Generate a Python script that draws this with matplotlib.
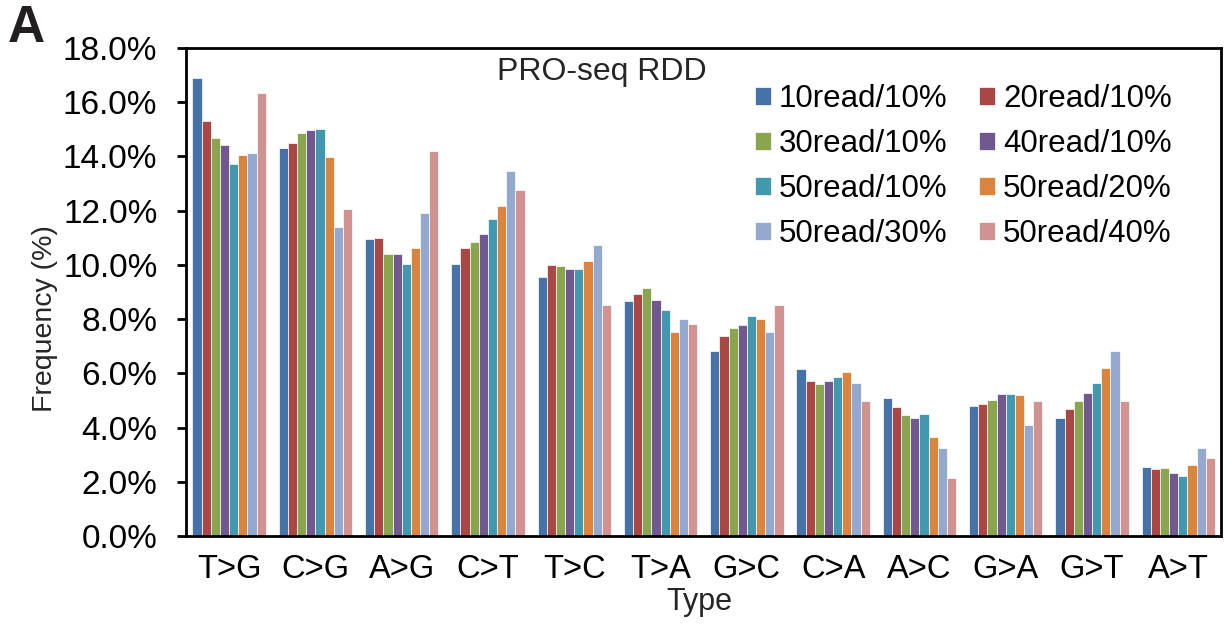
import numpy as np
import matplotlib
matplotlib.use("Agg")
import matplotlib.pyplot as plt

plt.rcParams['font.family'] = ['Liberation Sans', 'DejaVu Sans']

types = ["T>G", "C>G", "A>G", "C>T", "T>C", "T>A", "G>C", "C>A", "A>C", "G>A", "G>T", "A>T"]
series_names = ["10read/10%", "20read/10%", "30read/10%", "40read/10%",
                "50read/10%", "50read/20%", "50read/30%", "50read/40%"]

# frequency (%) per mutation type
r10_10 = [16.88, 14.32, 10.97, 10.05, 9.56, 8.66, 6.82, 6.15, 5.08, 4.81, 4.34, 2.56]
r20_10 = [15.32, 14.51, 10.99, 10.64, 10.00, 8.94, 7.39, 5.70, 4.74, 4.86, 4.67, 2.47]
r30_10 = [14.69, 14.86, 10.40, 10.86, 9.97, 9.15, 7.69, 5.62, 4.45, 5.02, 4.97, 2.50]
r40_10 = [14.42, 14.97, 10.40, 11.15, 9.85, 8.69, 7.79, 5.72, 4.36, 5.25, 5.26, 2.34]
r50_10 = [13.72, 15.01, 10.02, 11.70, 9.86, 8.33, 8.10, 5.85, 4.50, 5.24, 5.66, 2.20]
r50_20 = [14.07, 13.97, 10.63, 12.16, 10.16, 7.51, 8.01, 6.04, 3.66, 5.19, 6.19, 2.62]
r50_30 = [14.13, 11.41, 11.91, 13.45, 10.72, 8.01, 7.51, 5.63, 3.26, 4.10, 6.82, 3.26]
r50_40 = [16.33, 12.07, 14.20, 12.77, 8.51, 7.83, 8.53, 4.99, 2.15, 4.99, 4.99, 2.86]

all_series = [r10_10, r20_10, r30_10, r40_10, r50_10, r50_20, r50_30, r50_40]
colors = ["#4572A7", "#AA4643", "#89A54E", "#71588F",
          "#4198AF", "#DB843D", "#93A9CF", "#D19392"]

fig = plt.figure(figsize=(12.25, 6.3), dpi=100)
ax = fig.add_axes([0.1518, 0.1492, 0.8453, 0.7746])

x = np.arange(len(types))
group_w = 0.85
bar_w = group_w / len(all_series)
bars = []
for i, (vals, name, c) in enumerate(zip(all_series, series_names, colors)):
    offs = -group_w / 2 + bar_w * (i + 0.5)
    b = ax.bar(x + offs, vals, width=bar_w, color=c, edgecolor="white",
               linewidth=0.5, label=name)
    bars.append(b)

ax.set_xlim(-0.5, len(types) - 0.5)
ax.set_ylim(0, 18)
yt = np.arange(0, 18.1, 2)
ax.set_yticks(yt)
ax.set_yticklabels([f"{v:.1f}%" for v in yt])
ax.set_xticks(x)
ax.set_xticklabels(types)

ax.tick_params(axis="y", direction="out", length=6.5, width=2, labelsize=24, pad=14)
ax.tick_params(axis="x", length=0, labelsize=23.5, pad=13)
for sp in ax.spines.values():
    sp.set_linewidth(2)
    sp.set_color("black")

ax.set_xlabel("Type", fontsize=22, color="#262626")
ax.xaxis.set_label_coords(0.496, -0.105)
ax.set_ylabel("Frequency (%)", fontsize=20.5, color="#262626")
ax.yaxis.set_label_coords(-0.124, 0.445)

ax.text(0.402, 0.951, "PRO-seq RDD", transform=ax.transAxes, fontsize=23,
        color="#262626", ha="center", va="center")

# legend filled row by row (two columns)
order = [0, 2, 4, 6, 1, 3, 5, 7]
leg = ax.legend([bars[i] for i in order], [series_names[i] for i in order],
                ncol=2, loc="upper left", bbox_to_anchor=(0.5495, 0.926),
                frameon=False, handlelength=0.51, handleheight=0.51,
                handletextpad=0.26, columnspacing=1.0, labelspacing=0.48,
                borderpad=0, borderaxespad=0, fontsize=22.5)

fig.text(0.0065, 1 - 42 / 630, "A", fontsize=37, fontweight="bold", color="#231f20",
         ha="left", va="baseline")

fig.savefig("out.png", dpi=100)
